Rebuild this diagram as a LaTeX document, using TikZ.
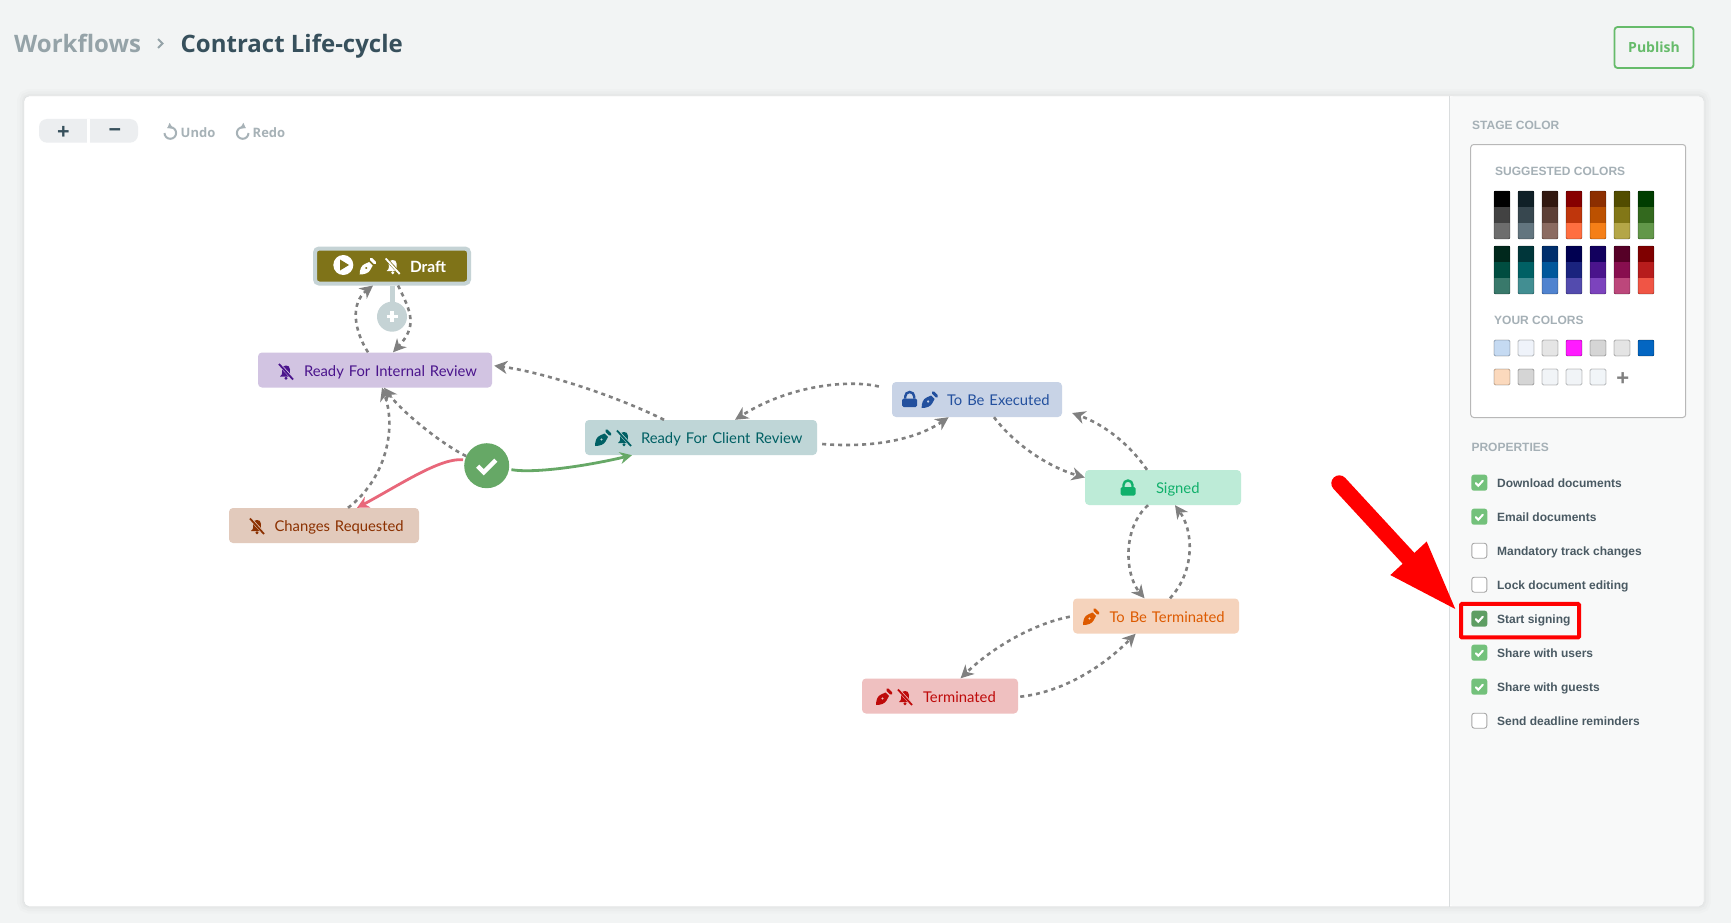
\documentclass[tikz,border=0pt]{standalone}
\usepackage{fontspec}
\setmainfont{Lato}
\newfontfamily\opensans{Open Sans}
\newfontfamily\arialfont{Liberation Sans}
\usetikzlibrary{arrows.meta,positioning,calc}
\definecolor{pagegrey}{HTML}{F2F4F4}
\definecolor{panelgrey}{HTML}{F8F9F9}
\definecolor{cardline}{HTML}{DADDDE}
\definecolor{slateink}{HTML}{37505C}
\definecolor{mutedink}{HTML}{95A3A8}
\definecolor{toolink}{HTML}{A7B2B7}
\definecolor{headink}{HTML}{A5B0B6}
\definecolor{propink}{HTML}{4A5A63}
\definecolor{publishgreen}{HTML}{66BB6A}
\definecolor{zoomgrey}{HTML}{ECEEF0}
\definecolor{flowgrey}{HTML}{808080}
\definecolor{okgreen}{HTML}{66A866}
\definecolor{rejectred}{HTML}{E8677A}
\definecolor{stemgrey}{HTML}{C5D3D5}
\definecolor{draftfill}{HTML}{7F7318}
\definecolor{internalfill}{HTML}{D2C4E2}
\definecolor{internalink}{HTML}{4A148C}
\definecolor{changesfill}{HTML}{E2CABC}
\definecolor{changesink}{HTML}{8B3000}
\definecolor{clientfill}{HTML}{BFD6D7}
\definecolor{clientink}{HTML}{006064}
\definecolor{executedfill}{HTML}{C8D3E6}
\definecolor{executedink}{HTML}{23509E}
\definecolor{signedfill}{HTML}{BDEBD7}
\definecolor{signedink}{HTML}{10B06B}
\definecolor{tobetermfill}{HTML}{F5D3BC}
\definecolor{tobetermink}{HTML}{DD5A00}
\definecolor{terminatedfill}{HTML}{EFC0C0}
\definecolor{terminatedink}{HTML}{BE0A0A}
\definecolor{propgreen}{HTML}{73C17B}
\definecolor{propdarkgreen}{HTML}{5E9E63}
\tikzset{
    pics/penicon/.style={code={
        \path[fill=#1, even odd rule] (-8,8) .. controls (-8,3) and (-6.5,-1) .. (-3,-2.5) -- (1.5,-4.5) -- (5,-1) -- (2.5,3.5) .. controls (1,6.5) and (-3,8) .. cycle
            (-1.5,1.5) circle (1.4);
        \draw[#1, line width=3, line cap=round] (3.6,-7.2) -- (7,-3.8);
    }},
    pics/muteicon/.style args={#1 on #2}{code={
        \path[fill=#1] (-6,5) .. controls (-3,3) and (-4,0) .. (-4,-2) .. controls (-4,-5) and (-2,-6) .. (0,-6) .. controls (2,-6) and (4,-5) .. (4,-2) .. controls (4,0) and (3,3) .. (6,5) -- cycle;
        \path[fill=#1] (0,6.8) circle (1.6);
        \draw[#2, line width=3] (-6.5,-7) -- (7,7.5);
        \draw[#1, line width=1.8] (-7,-7.5) -- (7,8);
    }},
    pics/lockicon/.style={code={
        \path[fill=#1, rounded corners=1.5] (-7.5,-1) rectangle (7.5,7.5);
        \draw[#1, line width=2.4] (-4.5,-1) -- (-4.5,-3) arc[start angle=180, end angle=360, radius=4.5] -- (4.5,-1);
    }}
}
\begin{document}
\begin{tikzpicture}[
    x=1pt, y=-1pt,
    stage/.style={rounded corners=4pt, minimum height=35, inner ysep=0, inner xsep=0, align=left,
                  text height=14.4, text depth=2, font=\fontsize{14.8}{18}\selectfont},
    flow/.style={line width=2.6, dash pattern=on 4pt off 4pt, flowgrey, -{Stealth[length=13pt,width=13pt,inset=4pt]}},
    decided/.style={line width=2.8, -{Stealth[length=12pt,width=12pt,inset=4pt]}},
    toolbutton/.style={text=slateink, inner sep=0, font=\opensans\bfseries\fontsize{22}{22}\selectfont},
    toolword/.style={text=toolink, inner sep=0, anchor=base west, font=\opensans\bfseries\fontsize{13}{16}\selectfont},
    toolicon/.style={toolink, line width=2, -{Triangle[width=6.5pt,length=4.5pt]}},
    panelhead/.style={text=headink, inner sep=0, anchor=base west, font=\arialfont\bfseries\fontsize{12}{14}\selectfont},
    proplabel/.style={text=propink, inner sep=0, anchor=base west, font=\arialfont\bfseries\fontsize{12}{14}\selectfont},
    propon/.style={fill=propgreen, rounded corners=2.5pt, minimum size=16, inner sep=0},
    propdark/.style={fill=propdarkgreen, rounded corners=2.5pt, minimum size=16, inner sep=0},
    propoff/.style={draw=black!35, fill=white, line width=0.9, rounded corners=2.5pt, minimum size=15, inner sep=0},
    swatchedge/.style={draw=black, opacity=0.25, line width=0.8, rounded corners=1.5pt},
    tick/.style={white, line width=2, line cap=round}
]
\useasboundingbox (0,0) rectangle (1731,923);
\fill[pagegrey] (0,0) rectangle (1731,923);

% Header
\node[inner sep=0, anchor=base west, text=mutedink, font=\opensans\bfseries\fontsize{24}{28}\selectfont] (crumb) at (14,52.3) {Workflows};
\draw[mutedink, line width=2] (158,39) -- (162.5,43.5) -- (158,48);
\node[inner sep=0, anchor=base west, text=slateink, font=\opensans\bfseries\fontsize{24}{28}\selectfont] (title) at (180.5,52.3) {Contract Life-cycle};
\node[draw=publishgreen, line width=1.8, rounded corners=3pt, minimum width=79, minimum height=41, inner sep=0,
      text=publishgreen, font=\opensans\bfseries\fontsize{14}{16}\selectfont] (publish) at (1654,47.5) {\raisebox{-1pt}{Publish}};

% Card and side panel
\foreach \w/\o in {14/0.012,9/0.015,4/0.02}
    \draw[black, opacity=\o, line width=\w, rounded corners=5pt] (24,96) rectangle (1704,906.5);
\fill[white, rounded corners=5pt] (24,96) rectangle (1704,906.5);
\fill[panelgrey, rounded corners=5pt] (1449,96) rectangle (1704,906.5);
\draw[cardline] (1449.5,96) -- (1449.5,906.5);
\draw[cardline, rounded corners=5pt] (24,96) rectangle (1704,906.5);

% Toolbar
\fill[zoomgrey, rounded corners=8pt] (39,119) rectangle (138,142.7);
\fill[white] (87,119) rectangle (90,142.7);
\node[toolbutton] (zoomin) at (63.5,133) {+};
\node[toolbutton] (zoomout) at (115,133) {−};
\draw[toolicon] (164.5,133) arc[start angle=180, end angle=-120, radius=5.8];
\node[toolword] (undo) at (180.5,137) {Undo};
\draw[toolicon] (248.5,133) arc[start angle=0, end angle=300, radius=5.8];
\node[toolword] (redo) at (252.5,137) {Redo};

% Stages
\node[stage, draw=stemgrey, line width=4, fill=draftfill, text=white, minimum width=154, text width=148,
      font=\fontsize{15.5}{18}\selectfont\bfseries] (draft) at (392,266) {\hspace*{92pt}Draft};
\node[stage, fill=internalfill, text=internalink, minimum width=234, text width=234] (internal) at (375,370) {\hspace*{46pt}Ready For Internal Review};
\node[stage, fill=changesfill, text=changesink, minimum width=190, text width=190] (changes) at (324,525.5) {\hspace*{45.5pt}Changes Requested};
\node[stage, fill=clientfill, text=clientink, minimum width=232, text width=232] (client) at (701,437.5) {\hspace*{56pt}Ready For Client Review};
\node[stage, fill=executedfill, text=executedink, minimum width=170, text width=170] (executed) at (977,399.5) {\hspace*{55pt}To Be Executed};
\node[stage, fill=signedfill, text=signedink, minimum width=156, text width=156] (signed) at (1163,487.5) {\hspace*{71pt}Signed};
\node[stage, fill=tobetermfill, text=tobetermink, minimum width=166, text width=166] (tobeterm) at (1156,616) {\hspace*{36.5pt}To Be Terminated};
\node[stage, fill=terminatedfill, text=terminatedink, minimum width=156, text width=156] (terminated) at (940,696) {\hspace*{61pt}Terminated};

% Stage icons
\fill[white] (343.3,265) circle (10);
\fill[draftfill] (340,259.5) -- (349,265) -- (340,270.5) -- cycle;
\pic at (367.7,266.5) {penicon=white};
\pic at (392.7,266) {muteicon=white on draftfill};
\pic at (286,371.5) {muteicon=internalink on internalfill};
\pic at (257,526) {muteicon=changesink on changesfill};
\pic at (603,438) {penicon=clientink};
\pic at (624,438) {muteicon=clientink on clientfill};
\pic at (909.7,399.5) {lockicon=executedink};
\pic at (929.6,400) {penicon=executedink};
\pic at (1128,488) {lockicon=signedink};
\pic at (1091,617) {penicon=tobetermink};
\pic at (884,697) {penicon=terminatedink};
\pic at (905,697) {muteicon=terminatedink on terminatedfill};

% Add button and decision point
\node[circle, fill=stemgrey, minimum size=30, inner sep=0] (addstage) at (392,316.7) {};
\draw[stemgrey, line width=5] (draft.south) -- (addstage.north);
\draw[white, line width=3.4] ($(addstage.center)+(-5.5,0)$) -- ($(addstage.center)+(5.5,0)$);
\draw[white, line width=3.4] ($(addstage.center)+(0,-5.5)$) -- ($(addstage.center)+(0,5.5)$);
\node[circle, fill=okgreen, minimum size=45, inner sep=0] (approve) at (486.7,465.7) {};
\draw[white, line width=4.4] ($(approve.center)+(-9,0.5)$) -- ++(6,6) -- ++(12,-12);

% Connect stages
\draw[flow] ($(draft.south)+(6,0)$) .. controls +(14,28) and +(24,-26) .. ($(internal.north)+(18,0)$);
\draw[flow] ($(internal.north)+(-7,0)$) .. controls +(-14,-22) and +(-23,18) .. ($(draft.south)+(-19,0)$);
\draw[flow] (approve.155) .. controls +(-26,-13) and +(18,24) .. ($(internal.south)+(9,0)$);
\draw[flow] ($(changes.north)+(24,0)$) .. controls +(37,-28) and +(15,42) .. ($(internal.south)+(7,0)$);
\draw[flow] ($(client.north)+(-37,0)$) .. controls +(-50,-25) and +(46,6) .. ($(internal.east)+(2,-4.3)$);
\draw[flow] ($(executed.west)+(-13,-13)$) .. controls +(-29,-7) and +(55,-35) .. ($(client.north)+(34,0)$);
\draw[flow] ($(client.east)+(5,6.5)$) .. controls +(48,4) and +(-33.6,23) .. ($(executed.south)+(-28.4,0)$);
\draw[flow] ($(executed.south)+(17,0)$) .. controls +(21,28) and +(-35,-10) .. ($(signed.west)+(0,-10)$);
\draw[flow] ($(signed.north)+(-16,0)$) .. controls +(-17,-25) and +(33,12) .. ($(executed.east)+(10,13.5)$);
\draw[flow] ($(signed.south)+(-15,0)$) .. controls +(-26,23) and +(-19.5,-23.5) .. ($(tobeterm.north)+(-11.5,0)$);
\draw[flow] ($(tobeterm.north)+(14,0)$) .. controls +(26,-28.5) and +(18,25) .. ($(signed.south)+(12,0)$);
\draw[flow] ($(tobeterm.west)+(-3,0.7)$) .. controls +(-40,8) and +(29.4,-28.5) .. ($(terminated.north)+(20.6,0)$);
\draw[flow] ($(terminated.east)+(2,0.7)$) .. controls +(45,-5) and +(-30.6,31) .. ($(tobeterm.south)+(-20.4,0)$);

% Decision outcomes
\draw[decided, rejectred] ($(approve.west)+(-1,-6)$) .. controls +(-23,-2) and +(43,-23) .. ($(changes.north)+(33,0)$);
\draw[decided, okgreen] ($(approve.east)+(2,4)$) .. controls +(25,4) and +(-42,10) .. ($(client.south)+(-69,0)$);

% Stage colour panel
\node[panelhead] (stagecolor) at (1472,129) {STAGE COLOR};
\node[draw=black!28, line width=1, fill=white, rounded corners=3pt, minimum width=215, minimum height=273, inner sep=0] (colorcard) at (1578.2,281) {};
\node[panelhead] (suggested) at (1495,175) {SUGGESTED COLORS};
\foreach \ca/\cb/\cc [count=\i from 0] in {000000/424242/6D6D6D,102027/37474F/62757F,321911/5D4037/8B6B61,870000/BF360C/FF6E40,8C2F00/BC5100/F57F17,524C00/827717/B4A647,003D00/33691E/629749}{
    \definecolor{swa}{HTML}{\ca}\definecolor{swb}{HTML}{\cb}\definecolor{swc}{HTML}{\cc}
    \fill[swa] ({1494+24*\i},191) rectangle ++(16,16);
    \fill[swb] ({1494+24*\i},207) rectangle ++(16,16);
    \fill[swc] ({1494+24*\i},223) rectangle ++(16,16);
    \draw[swatchedge] ({1494+24*\i},191) rectangle ++(16,48);
}
\foreach \ca/\cb/\cc [count=\i from 0] in {00281C/004D40/39796B,00363A/006064/428E92,002F6C/01579B/5083CF,000051/1A237E/534BAE,12005E/4A148C/7C43BD,560027/880E4F/BC477B,7F0000/B71C1C/F05545}{
    \definecolor{swa}{HTML}{\ca}\definecolor{swb}{HTML}{\cb}\definecolor{swc}{HTML}{\cc}
    \fill[swa] ({1494+24*\i},246) rectangle ++(16,16);
    \fill[swb] ({1494+24*\i},262) rectangle ++(16,16);
    \fill[swc] ({1494+24*\i},278) rectangle ++(16,16);
    \draw[swatchedge] ({1494+24*\i},246) rectangle ++(16,48);
}
\node[panelhead] (yours) at (1494,324) {YOUR COLORS};
\foreach \ca [count=\i from 0] in {C5DAF2,EFF3FA,E5E5E5,FF1BFF,D5D5D5,E4E4E4,0366C2}{
    \definecolor{swa}{HTML}{\ca}
    \fill[swa] ({1494+24*\i},340) rectangle ++(16,16);
    \draw[swatchedge] ({1494+24*\i},340) rectangle ++(16,16);
}
\foreach \ca [count=\i from 0] in {FBD9BD,D5D5D5,F1F4F7,F1F4F7,F1F5F8}{
    \definecolor{swa}{HTML}{\ca}
    \fill[swa] ({1494+24*\i},369) rectangle ++(16,16);
    \draw[swatchedge] ({1494+24*\i},369) rectangle ++(16,16);
}
\node[inner sep=0, text=black!50, font=\arialfont\bfseries\fontsize{22}{22}\selectfont] (addcolor) at (1622.7,379.5) {+};

% Properties panel
\node[panelhead] (properties) at (1471.3,451) {PROPERTIES};
\foreach \rowy/\proptext/\boxstyle [count=\i] in {482.7/Download documents/propon,516.7/Email documents/propon,550.7/Mandatory track changes/propoff,584.7/Lock document editing/propoff,618.7/Start signing/propdark,652.7/Share with users/propon,686.7/Share with guests/propon,720.7/Send deadline reminders/propoff}{
    \node[\boxstyle] (propbox\i) at (1479.3,\rowy) {};
    \node[proplabel] (propname\i) at (1496.9,\rowy+4.6) {\proptext};
}
\foreach \i in {1,2,5,6,7}
    \draw[tick] ($(propbox\i.center)+(-3.5,0.5)$) -- ++(2.5,2.5) -- ++(4.5,-5);

% Red highlight
\node[draw=red, line width=4, rounded corners=1pt, minimum width=118, minimum height=33.5, inner sep=0] (redbox) at (1520,620.7) {};
\coordinate (redtail) at (1339.3,483.3);
\draw[red, line width=16, line cap=round, -{Triangle[width=44pt,length=73pt]}] (redtail) -- ($(redbox.north west)+(-1,10)$);
\end{tikzpicture}
\end{document}
